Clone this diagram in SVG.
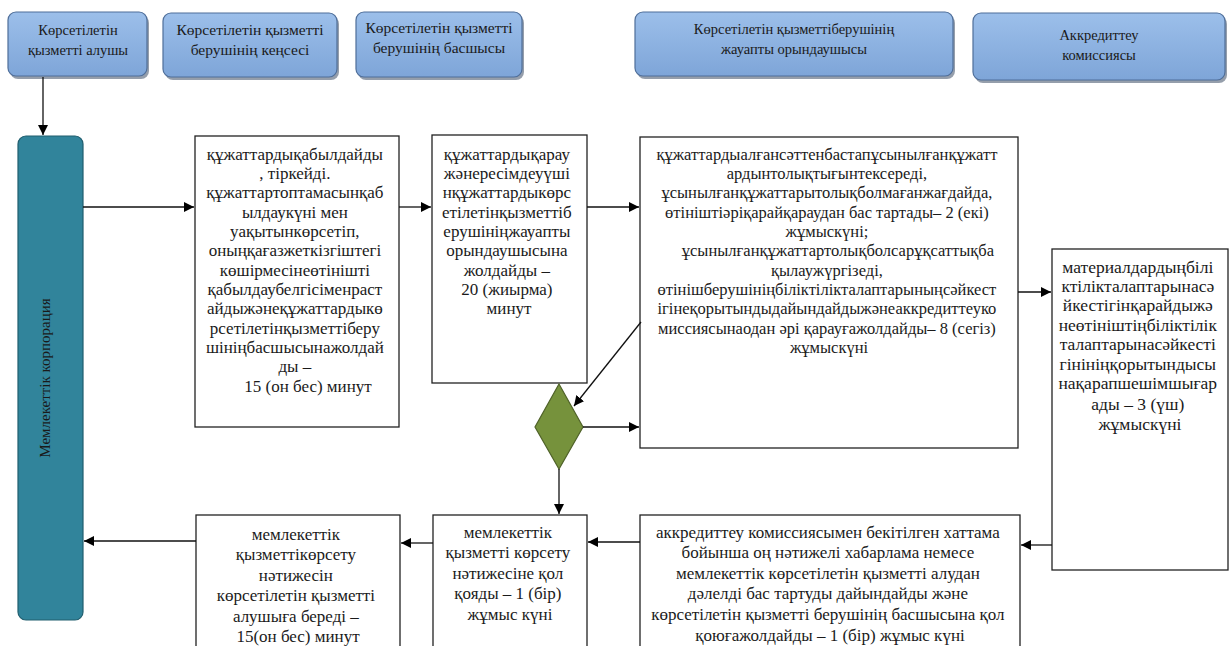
<svg xmlns="http://www.w3.org/2000/svg" width="1230" height="646" viewBox="0 0 1230 646">
<defs>
<linearGradient id="hg" x1="0" y1="0" x2="0" y2="1">
<stop offset="0" stop-color="#9CBFEA"/>
<stop offset="1" stop-color="#7EA5D8"/>
</linearGradient>
<marker id="ah" viewBox="0 0 10 10" refX="10" refY="5" markerWidth="10" markerHeight="10" markerUnits="userSpaceOnUse" orient="auto">
<path d="M0,0 L10,5 L0,10 z" fill="#000"/>
</marker>
<style>
.hdr{fill:url(#hg);stroke:#4F6E99;stroke-width:1.2}
.shd{fill:#3E4E66;opacity:0.55}
.box{fill:#fff;stroke:#222;stroke-width:1.3}
.ht{font-family:"Liberation Serif","DejaVu Serif",serif;font-size:14.5px;fill:#1a1a1a;text-anchor:middle}
.t{font-family:"Liberation Serif","DejaVu Serif",serif;font-size:17px;fill:#1a1a1a;text-anchor:middle}
.tc{font-family:"Liberation Serif","DejaVu Serif",serif;font-size:16.5px;fill:#1a1a1a;text-anchor:middle}
.td{font-family:"Liberation Serif","DejaVu Serif",serif;font-size:17.5px;fill:#1a1a1a;text-anchor:middle}
.tv{font-family:"Liberation Serif","DejaVu Serif",serif;font-size:15px;fill:#1a1a1a;text-anchor:middle}
.cn{stroke:#111;stroke-width:1.3;fill:none;marker-end:url(#ah)}
</style>
</defs>
<rect width="1230" height="646" fill="#fff"/>

<g id="h1">
<rect class="shd" x="10" y="15" width="139" height="64" rx="8"/>
<rect class="hdr" x="8" y="12" width="139" height="64" rx="8"/>
<text class="ht" x="78" y="35">Көрсетілетін</text>
<text class="ht" x="78" y="55">қызметті алушы</text>
</g>
<g id="h2">
<rect class="shd" x="165" y="16" width="174" height="64" rx="8"/>
<rect class="hdr" x="163" y="13" width="174" height="64" rx="8"/>
<text class="ht" x="250" y="35" style="font-size:15.5px">Көрсетілетін қызметті</text>
<text class="ht" x="250" y="55" style="font-size:15.5px">берушінің кеңсесі</text>
</g>
<g id="h3">
<rect class="shd" x="358" y="15" width="166" height="65" rx="8"/>
<rect class="hdr" x="356" y="12" width="166" height="65" rx="8"/>
<text class="ht" x="439" y="33" style="font-size:15.5px">Көрсетілетін қызметті</text>
<text class="ht" x="439" y="53" style="font-size:15.5px">берушінің басшысы</text>
</g>
<g id="h4">
<rect class="shd" x="637" y="15" width="318" height="64" rx="8"/>
<rect class="hdr" x="635" y="12" width="318" height="64" rx="8"/>
<text class="ht" x="794" y="34">Көрсетілетін қызметтіберушінің</text>
<text class="ht" x="794" y="54">жауапты орындаушысы</text>
</g>
<g id="h5">
<rect class="shd" x="975" y="16" width="252" height="67" rx="8"/>
<rect class="hdr" x="973" y="13" width="252" height="67" rx="8"/>
<text class="ht" x="1099" y="40">Аккредиттеу</text>
<text class="ht" x="1099" y="60">комиссиясы</text>
</g>

<g id="corp">
<rect x="18" y="136" width="65" height="484" rx="8" fill="#31849B" stroke="#215E6E" stroke-width="1.2"/>
<text class="tv" transform="translate(50,378) rotate(-90)">Мемлекеттік корпорация</text>
</g>

<g id="nA">
<rect class="box" x="195" y="136" width="204" height="291"/>
<text class="t">
<tspan x="297" y="160">құжаттардықабылдайды</tspan>
<tspan x="297" y="179">, тіркейді.</tspan>
<tspan x="297" y="198">құжаттартоптамасынқаб</tspan>
<tspan x="297" y="218">ылдаукүні мен</tspan>
<tspan x="297" y="237">уақытынкөрсетіп,</tspan>
<tspan x="297" y="256">оныңқағазжеткізгіштегі</tspan>
<tspan x="297" y="276">көшірмесінеөтінішті</tspan>
<tspan x="297" y="295">қабылдаубелгісіменраст</tspan>
<tspan x="297" y="314">айдыжәнеқұжаттардыкө</tspan>
<tspan x="297" y="334">рсетілетінқызметтіберу</tspan>
<tspan x="297" y="353">шініңбасшысынажолдай</tspan>
<tspan x="297" y="372">ды –</tspan>
<tspan x="308" y="392">15 (он бес) минут</tspan>
</text>
</g>

<g id="nB">
<rect class="box" x="432" y="135" width="155" height="248"/>
<text class="t">
<tspan x="509" y="160">құжаттардықарау</tspan>
<tspan x="509" y="179">жәнересімдеуүші</tspan>
<tspan x="509" y="198">нқұжаттардыкөрс</tspan>
<tspan x="509" y="218">етілетінқызметтіб</tspan>
<tspan x="509" y="237">ерушініңжауапты</tspan>
<tspan x="509" y="256">орындаушысына</tspan>
<tspan x="509" y="276">жолдайды –</tspan>
<tspan x="509" y="295">20 (жиырма)</tspan>
<tspan x="509" y="314">минут</tspan>
</text>
</g>

<g id="nC">
<rect class="box" x="640" y="137" width="378" height="311"/>
<text class="tc">
<tspan x="829" y="160">құжаттардыалғансәттенбастапұсынылғанқұжатт</tspan>
<tspan x="829" y="179">ардынтолықтығынтексереді,</tspan>
<tspan x="829" y="198">ұсынылғанқұжаттарытолықболмағанжағдайда,</tspan>
<tspan x="829" y="218">өтініштіәріқарайқараудан бас тартады– 2 (екі)</tspan>
<tspan x="829" y="237">жұмыскүні;</tspan>
<tspan x="840" y="256">ұсынылғанқұжаттартолықболсарұқсаттықба</tspan>
<tspan x="829" y="276">қылаужүргізеді,</tspan>
<tspan x="829" y="295">өтінішберушініңбіліктілікталаптарыныңсәйкест</tspan>
<tspan x="829" y="314">ігінеқорытындыдайындайдыжәнеаккредиттеуко</tspan>
<tspan x="829" y="334">миссиясынаодан әрі қарауғажолдайды– 8 (сегіз)</tspan>
<tspan x="829" y="353">жұмыскүні</tspan>
</text>
</g>

<g id="dec">
<polygon points="559,384 583,427 559,469 535,427" fill="#76923C" stroke="#4F6228" stroke-width="1.2"/>
</g>

<g id="nD">
<rect class="box" x="1052" y="249" width="176" height="321"/>
<text class="td">
<tspan x="1140" y="273">материалдардыңбілі</tspan>
<tspan x="1140" y="292">ктілікталаптарынасә</tspan>
<tspan x="1140" y="311">йкестігінқарайдыжә</tspan>
<tspan x="1140" y="331">неөтініштіңбіліктілік</tspan>
<tspan x="1140" y="350">талаптарынасәйкесті</tspan>
<tspan x="1140" y="370">гінініңқорытындысы</tspan>
<tspan x="1140" y="389">нақарапшешімшығар</tspan>
<tspan x="1140" y="410">ады – 3 (үш)</tspan>
<tspan x="1140" y="430">жұмыскүні</tspan>
</text>
</g>

<g id="nF">
<rect class="box" x="640" y="515" width="380" height="150"/>
<text class="t">
<tspan x="830" y="538">аккредиттеу комиссиясымен бекітілген хаттама</tspan>
<tspan x="830" y="558">бойынша оң нәтижелі хабарлама немесе</tspan>
<tspan x="830" y="579">мемлекеттік көрсетілетін қызметті алудан</tspan>
<tspan x="830" y="599">дәлелді бас тартуды дайындайды және</tspan>
<tspan x="830" y="620">көрсетілетін қызметті берушінің басшысына қол</tspan>
<tspan x="830" y="641">қоюғажолдайды – 1 (бір) жұмыс күні</tspan>
</text>
</g>

<g id="nE">
<rect class="box" x="433" y="515" width="154" height="150"/>
<text class="t">
<tspan x="510" y="538">мемлекеттік</tspan>
<tspan x="510" y="558">қызметті көрсету</tspan>
<tspan x="510" y="579">нәтижесіне қол</tspan>
<tspan x="510" y="599">қояды – 1 (бір)</tspan>
<tspan x="510" y="620">жұмыс күні</tspan>
</text>
</g>

<g id="nG">
<rect class="box" x="196" y="515" width="204" height="150"/>
<text class="t">
<tspan x="298" y="540">мемлекеттік</tspan>
<tspan x="298" y="560">қызметтікөрсету</tspan>
<tspan x="298" y="581">нәтижесін</tspan>
<tspan x="298" y="601">көрсетілетін қызметті</tspan>
<tspan x="298" y="622">алушыға береді –</tspan>
<tspan x="298" y="642">15(он бес)  минут</tspan>
</text>
</g>

<g id="connectors">
<line class="cn" x1="43" y1="77" x2="43" y2="135"/>
<line class="cn" x1="83" y1="207" x2="194" y2="207"/>
<line class="cn" x1="399" y1="207" x2="431" y2="207"/>
<line class="cn" x1="587" y1="207" x2="639" y2="207"/>
<line class="cn" x1="641" y1="322" x2="574" y2="406"/>
<line class="cn" x1="583" y1="427" x2="639" y2="427"/>
<line class="cn" x1="559" y1="469" x2="559" y2="514"/>
<line class="cn" x1="1018" y1="292" x2="1051" y2="292"/>
<line class="cn" x1="1052" y1="545" x2="1021" y2="545"/>
<line class="cn" x1="640" y1="542" x2="588" y2="542"/>
<line class="cn" x1="433" y1="543" x2="401" y2="543"/>
<line class="cn" x1="196" y1="541" x2="84" y2="541"/>
</g>
</svg>
